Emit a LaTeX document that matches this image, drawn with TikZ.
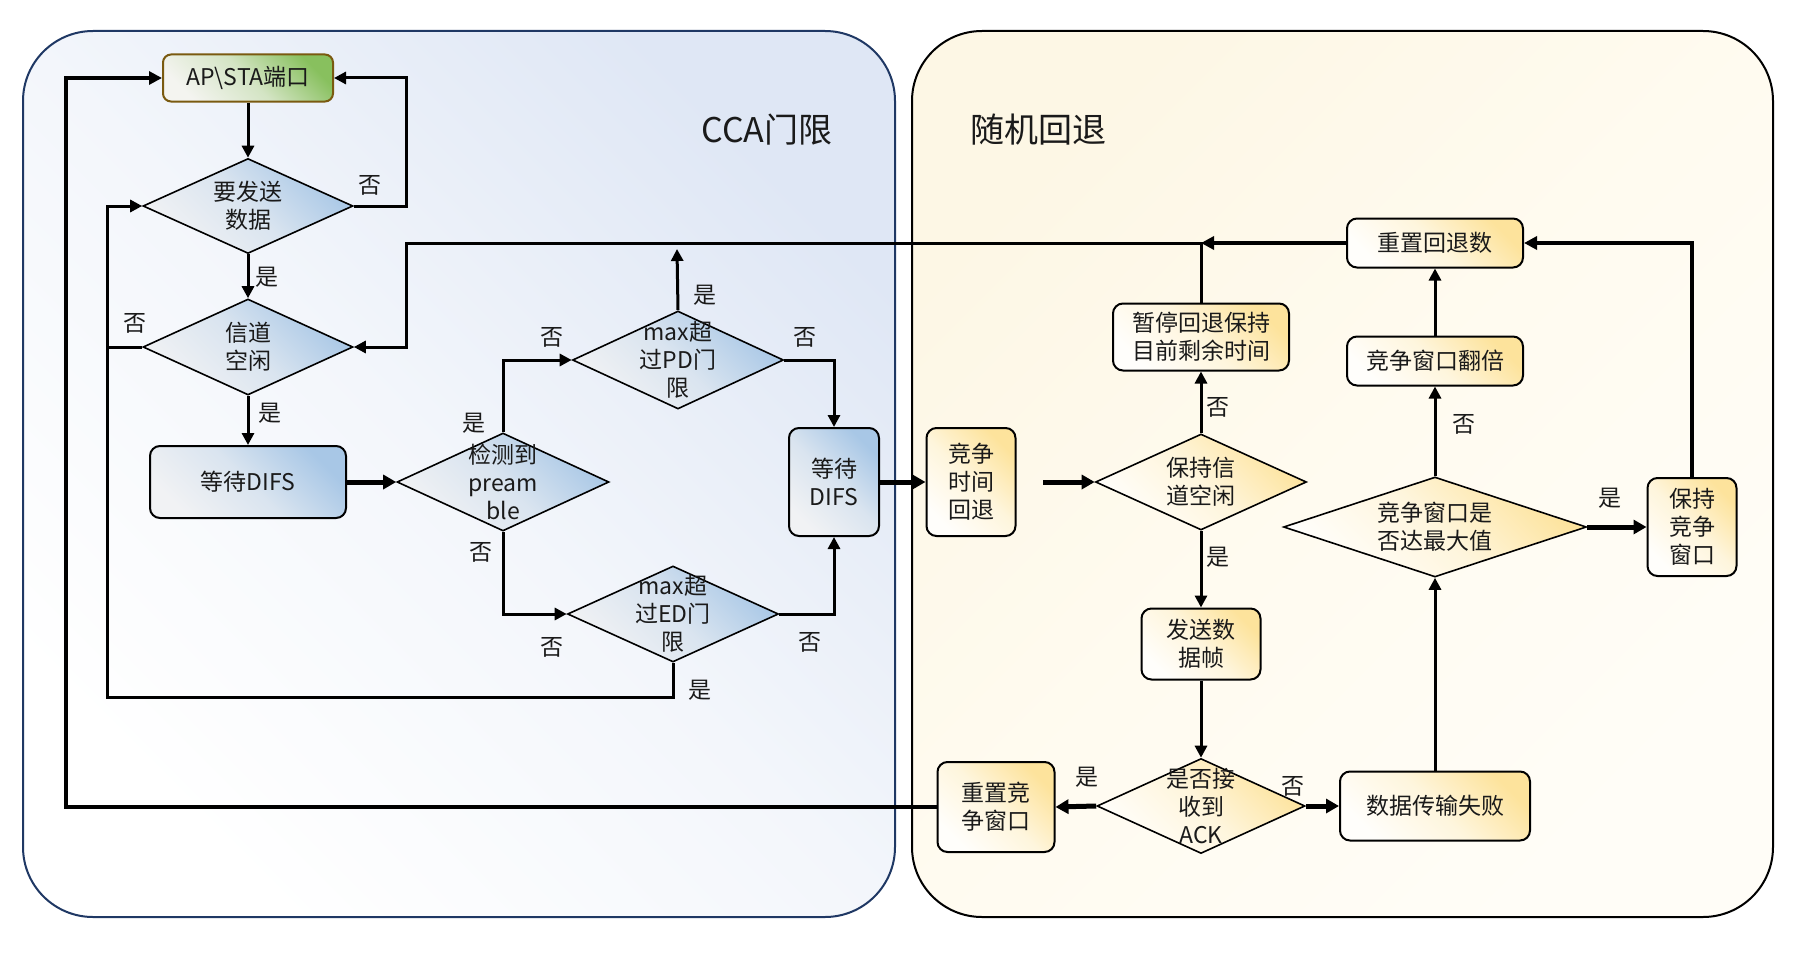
\documentclass[tikz,border=0pt]{standalone}
\usepackage{fontspec}
\setmainfont{Noto Sans CJK SC}
\usetikzlibrary{arrows.meta,shapes.geometric}

\definecolor{bluehi}{HTML}{A8C7E6}
\definecolor{bluelo}{HTML}{F1F2F4}
\definecolor{yelhi}{HTML}{FDE39C}
\definecolor{yello}{HTML}{FFFEFB}
\definecolor{grnhi}{HTML}{88C05E}
\definecolor{grnlo}{HTML}{F4F4F0}
\definecolor{apborder}{HTML}{7A5A10}
\definecolor{lcontborder}{HTML}{1F3864}
\definecolor{lconthi}{HTML}{DFE7F5}
\definecolor{lcontmid}{HTML}{F3F6FB}
\definecolor{lcontlo}{HTML}{FFFFFF}
\definecolor{rconthi}{HTML}{FDF7E5}
\definecolor{rcontmid}{HTML}{FFFBF0}
\definecolor{rcontlo}{HTML}{FFFDF7}
\definecolor{txt}{HTML}{1A1A1A}

\tikzset{
  x=1pt, y=-1pt,
  every node/.style={font=\fontsize{23}{28}\selectfont, text=txt},
  gbox/.style={rectangle, rounded corners=8pt, draw=apborder, line width=2pt,
    top color=grnhi, bottom color=grnlo, middle color=grnhi!30!grnlo, shading angle=-45, align=center, inner sep=2pt},
  bbox/.style={rectangle, rounded corners=10pt, draw=black, line width=2pt,
    top color=bluehi, bottom color=bluelo, middle color=bluehi!32!bluelo, shading angle=-45, align=center, inner sep=2pt},
  ybox/.style={rectangle, rounded corners=10pt, draw=black, line width=2pt,
    top color=yelhi, bottom color=yello, middle color=yelhi!32!yello, shading angle=-45, align=center, inner sep=2pt},
  bdia/.style={diamond, draw=black, line width=1.6pt, inner sep=0pt,
    top color=bluehi, bottom color=bluelo, middle color=bluehi!32!bluelo, shading angle=-45},
  ydia/.style={diamond, draw=black, line width=1.6pt, inner sep=0pt,
    top color=yelhi, bottom color=yello, middle color=yelhi!32!yello, shading angle=-45},
  dtxt/.style={align=center, inner sep=0pt},
  lab/.style={inner sep=0pt},
  ttl/.style={font=\fontsize{34}{40}\selectfont, inner sep=0pt},
  arr/.style={line width=3pt, -{Triangle[length=12pt,width=12pt]}},
  arrM/.style={line width=4pt, -{Triangle[length=13pt,width=13pt]}},
  arrT/.style={line width=5pt, -{Triangle[length=13pt,width=14pt]}},
  plain/.style={line width=3pt},
}

\begin{document}
\begin{tikzpicture}
\useasboundingbox (0,0) rectangle (1816,958);

% containers
\draw[draw=lcontborder, line width=2pt, rounded corners=70pt,
  top color=lconthi, bottom color=lcontlo, middle color=lcontmid, shading angle=-45] (23,31) rectangle (895,917);
\draw[draw=black, line width=2pt, rounded corners=70pt,
  top color=rconthi, bottom color=rcontlo, middle color=rcontmid, shading angle=45] (912,31) rectangle (1773,917);

\node[ttl] (tt1) at (767,130) {CCA门限};
\node[ttl] (tt2) at (1038,130) {随机回退};

% left part nodes
\node[gbox, minimum width=170pt, minimum height=47pt] (ap) at (248,78) {AP\textbackslash STA端口};
\node[bdia, minimum width=210pt, minimum height=95pt] (d1) at (248,206) {};
\node[dtxt] (t1) at (d1) {要发送\\数据};
\node[bdia, minimum width=210pt, minimum height=96pt] (d2) at (248,347) {};
\node[dtxt] (t2) at (d2) {信道\\空闲};
\node[bbox, minimum width=196pt, minimum height=72pt] (r1) at (248,482) {等待DIFS};
\node[bdia, minimum width=212pt, minimum height=98pt] (d3) at (503,482) {};
\node[dtxt] (t3) at (d3) {检测到\\pream\\ble};
\node[bdia, minimum width=211pt, minimum height=98pt] (d4) at (678,360) {};
\node[dtxt] (t4) at (d4) {max超\\过PD门\\限};
\node[bdia, minimum width=211pt, minimum height=96pt] (d5) at (673,614) {};
\node[dtxt] (t5) at (d5) {max超\\过ED门\\限};
\node[bbox, minimum width=90pt, minimum height=108pt] (r2) at (834,482) {等待\\DIFS};

% right part nodes
\node[ybox, minimum width=89pt, minimum height=108pt] (r3) at (971,482) {竞争\\时间\\回退};
\node[ydia, minimum width=211pt, minimum height=96pt] (d6) at (1201,482) {};
\node[dtxt] (t6) at (d6) {保持信\\道空闲};
\node[ybox, minimum width=176pt, minimum height=67pt] (r4) at (1201,337) {暂停回退保持\\目前剩余时间};
\node[ybox, minimum width=176pt, minimum height=49pt] (r5) at (1435,243) {重置回退数};
\node[ybox, minimum width=176pt, minimum height=49pt] (r6) at (1435,361) {竞争窗口翻倍};
\node[ydia, minimum width=303pt, minimum height=100pt] (d7) at (1435,527) {};
\node[dtxt] (t7) at (d7) {竞争窗口是\\否达最大值};
\node[ybox, minimum width=89pt, minimum height=98pt] (r7) at (1692,527) {保持\\竞争\\窗口};
\node[ybox, minimum width=119pt, minimum height=71pt] (r8) at (1201,644) {发送数\\据帧};
\node[ydia, minimum width=208pt, minimum height=95pt] (d8) at (1201,806) {};
\node[dtxt] (t8) at (d8) {是否接\\收到\\ACK};
\node[ybox, minimum width=190pt, minimum height=69pt] (r9) at (1435,806) {数据传输失败};
\node[ybox, minimum width=117pt, minimum height=90pt] (r10) at (996,807) {重置竞\\争窗口};

% helper coordinates
\coordinate (cx1) at (406,0);
\coordinate (cx2) at (107,0);
\coordinate (cx3) at (66,0);
\coordinate (cy2) at (0,697);
\coordinate (pdup) at (677,249);
\coordinate (bkst) at (1043,482);

% connectors
\draw[arr] (ap) -- (d1);
\draw[arr] (d1.east) -- (cx1 |- d1.east) -- (cx1 |- ap.east) -- (ap.east);
\draw[arr] (d1) -- (d2);
\draw[arr] (d2.west) -- (cx2 |- d2.west) -- (cx2 |- d1.west) -- (d1.west);
\draw[arr] (d2) -- (r1);
\draw[arrT] (r1) -- (d3);
\draw[arr] (d3.north) -- (d3.north |- d4.west) -- (d4.west);
\draw[arr] (d4.north) -- (pdup);
\draw[arr] (d4.east) -- (r2.north |- d4.east) -- (r2.north);
\draw[arr] (d3.south) -- (d3.south |- d5.west) -- (d5.west);
\draw[arr] (d5.east) -- (r2.south |- d5.east) -- (r2.south);
\draw[plain] (d5.south) -- (d5.south |- cy2) -- (cx2 |- cy2) -- (cx2 |- d2.west);
\draw[arrT] (r2) -- (r3);
\draw[arrT] (bkst) -- (d6.west);
\draw[arr] (d6) -- (r4);
\draw[arr] (r4.north) -- (r4.north |- r5.west) -- (cx1 |- r5.west) -- (cx1 |- d2.east) -- (d2.east);
\draw[arrM] (r5.west) -- (r4.north |- r5.west);
\draw[arr] (d6) -- (r8);
\draw[arr] (r8) -- (d8);
\draw[arrT] (d8.west) -- (r10.east);
\draw[arrT] (d8.east) -- (r9.west);
\draw[arr] (r9) -- (d7);
\draw[arr] (d7) -- (r6);
\draw[arr] (r6) -- (r5);
\draw[arrT] (d7.east) -- (r7.west);
\draw[arrM] (r7.north) -- (r7.north |- r5.east) -- (r5.east);
\draw[arrM] (r10.west) -- (cx3 |- r10.west) -- (cx3 |- ap.west) -- (ap.west);

% labels
\node[lab] (l1) at (370,185) {否};
\node[lab] (l2) at (267,277) {是};
\node[lab] (l3) at (135,323) {否};
\node[lab] (l4) at (270,413) {是};
\node[lab] (l5) at (474,423) {是};
\node[lab] (l6) at (552,337) {否};
\node[lab] (l7) at (705,295) {是};
\node[lab] (l8) at (805,337) {否};
\node[lab] (l9) at (481,552) {否};
\node[lab] (l10) at (552,647) {否};
\node[lab] (l11) at (810,642) {否};
\node[lab] (l12) at (700,690) {是};
\node[lab] (l13) at (1218,407) {否};
\node[lab] (l14) at (1464,424) {否};
\node[lab] (l15) at (1218,557) {是};
\node[lab] (l16) at (1610,498) {是};
\node[lab] (l17) at (1087,777) {是};
\node[lab] (l18) at (1293,786) {否};
\end{tikzpicture}
\end{document}
